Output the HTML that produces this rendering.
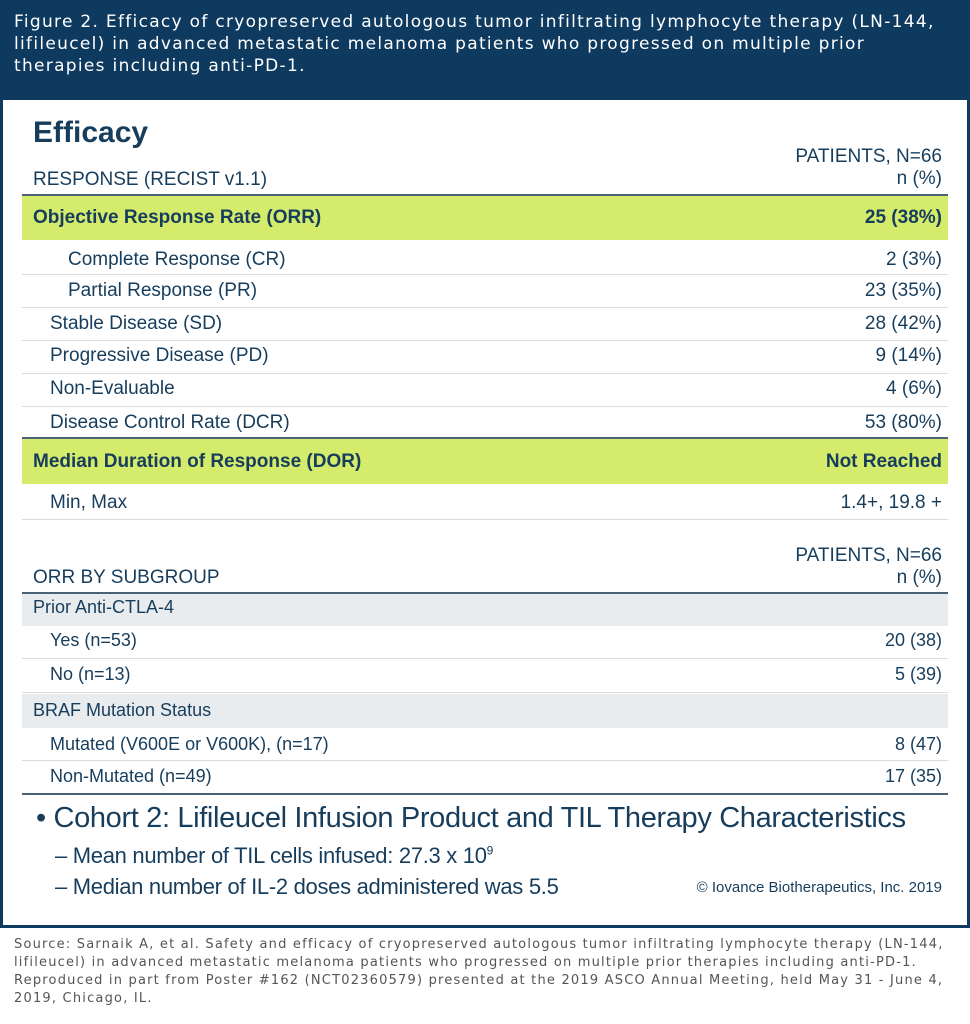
<!DOCTYPE html>
<html><head><style>
*{margin:0;padding:0;box-sizing:border-box}
body{width:970px;height:1024px;background:#fff;font-family:"Liberation Sans",sans-serif;position:relative;overflow:hidden;color:#173d5c}
.hdr{position:absolute;left:0;top:0;width:970px;height:100px;background:#0f3a5f;color:#fff;font-family:"DejaVu Sans",sans-serif;font-size:17px;letter-spacing:1.3px;line-height:22px;padding:11px 0 0 14px;white-space:nowrap}
.box{position:absolute;left:0;top:100px;width:970px;height:828px;border:3px solid #0f3a5f;border-top:none}
.t{position:absolute;white-space:nowrap;font-size:19px}
.r{right:28px;text-align:right}
.ln{position:absolute;left:22px;right:22px;height:1px;background:#d8dcdf}
.dk{background:#4a6274;height:2px}
.g{position:absolute;left:22px;right:22px;background:#d5eb6c}
.gr{position:absolute;left:22px;right:22px;background:#e9ecee}
.b{font-weight:bold}
.src{position:absolute;left:14px;top:936px;font-family:"DejaVu Sans",sans-serif;font-size:13px;letter-spacing:1.2px;line-height:18px;color:#555;white-space:nowrap}
</style></head><body>
<div class="hdr">Figure 2. Efficacy of cryopreserved autologous tumor infiltrating lymphocyte therapy (LN-144,<br>lifileucel) in advanced metastatic melanoma patients who progressed on multiple prior<br>therapies including anti-PD-1.</div>
<div class="box"></div>
<div class="t b" style="left:33px;top:116px;font-size:30px">Efficacy</div>
<div class="t r" style="top:146px;line-height:22px">PATIENTS, N=66<br>n (%)</div>
<div class="t" style="left:33px;top:169px">RESPONSE (RECIST v1.1)</div>
<div class="ln dk" style="top:194px"></div>
<div class="g" style="top:196px;height:44px"></div>
<div class="t b" style="left:33px;top:207px">Objective Response Rate (ORR)</div>
<div class="t b r" style="top:207px">25 (38%)</div>
<div class="t" style="left:68px;top:249px">Complete Response (CR)</div><div class="t r" style="top:249px">2 (3%)</div>
<div class="ln" style="top:274px"></div>
<div class="t" style="left:68px;top:280px">Partial Response (PR)</div><div class="t r" style="top:280px">23 (35%)</div>
<div class="ln" style="top:307px"></div>
<div class="t" style="left:50px;top:313px">Stable Disease (SD)</div><div class="t r" style="top:313px">28 (42%)</div>
<div class="ln" style="top:340px"></div>
<div class="t" style="left:50px;top:345px">Progressive Disease (PD)</div><div class="t r" style="top:345px">9 (14%)</div>
<div class="ln" style="top:373px"></div>
<div class="t" style="left:50px;top:378px">Non-Evaluable</div><div class="t r" style="top:378px">4 (6%)</div>
<div class="ln" style="top:406px"></div>
<div class="t" style="left:50px;top:412px">Disease Control Rate (DCR)</div><div class="t r" style="top:412px">53 (80%)</div>
<div class="ln dk" style="top:437px"></div>
<div class="g" style="top:439px;height:45px"></div>
<div class="t b" style="left:33px;top:451px">Median Duration of Response (DOR)</div><div class="t b r" style="top:451px">Not Reached</div>
<div class="t" style="left:50px;top:492px">Min, Max</div><div class="t r" style="top:492px">1.4+, 19.8 +</div>
<div class="ln" style="top:519px"></div>
<div class="t r" style="top:545px;line-height:22px">PATIENTS, N=66<br>n (%)</div>
<div class="t" style="left:33px;top:567px">ORR BY SUBGROUP</div>
<div class="ln dk" style="top:592px"></div>
<div class="gr" style="top:594px;height:32px"></div>
<div class="t" style="left:33px;top:597px;font-size:18px">Prior Anti-CTLA-4</div>
<div class="t" style="left:50px;top:630px;font-size:18px">Yes (n=53)</div><div class="t r" style="top:630px;font-size:18px">20 (38)</div>
<div class="ln" style="top:658px"></div>
<div class="t" style="left:50px;top:664px;font-size:18px">No (n=13)</div><div class="t r" style="top:664px;font-size:18px">5 (39)</div>
<div class="ln" style="top:692px"></div>
<div class="gr" style="top:694px;height:34px"></div>
<div class="t" style="left:33px;top:700px;font-size:18px">BRAF Mutation Status</div>
<div class="t" style="left:50px;top:734px;font-size:18px">Mutated (V600E or V600K), (n=17)</div><div class="t r" style="top:734px;font-size:18px">8 (47)</div>
<div class="ln" style="top:760px"></div>
<div class="t" style="left:50px;top:766px;font-size:18px">Non-Mutated (n=49)</div><div class="t r" style="top:766px;font-size:18px">17 (35)</div>
<div class="ln dk" style="top:793px"></div>
<div class="t" style="left:36px;top:802px;font-size:29px;letter-spacing:-0.35px">• Cohort 2: Lifileucel Infusion Product and TIL Therapy Characteristics</div>
<div class="t" style="left:55px;top:843px;font-size:22px;letter-spacing:-0.3px">– Mean number of TIL cells infused: 27.3 x 10<sup style="font-size:12px">9</sup></div>
<div class="t" style="left:55px;top:874px;font-size:22px;letter-spacing:-0.3px">– Median number of IL-2 doses administered was 5.5</div>
<div class="t r" style="top:879px;font-size:15px">© Iovance Biotherapeutics, Inc. 2019</div>
<div class="src">Source: Sarnaik A, et al. Safety and efficacy of cryopreserved autologous tumor infiltrating lymphocyte therapy (LN-144,<br>lifileucel) in advanced metastatic melanoma patients who progressed on multiple prior therapies including anti-PD-1.<br>Reproduced in part from Poster #162 (NCT02360579) presented at the 2019 ASCO Annual Meeting, held May 31 - June 4,<br>2019, Chicago, IL.</div>
</body></html>
